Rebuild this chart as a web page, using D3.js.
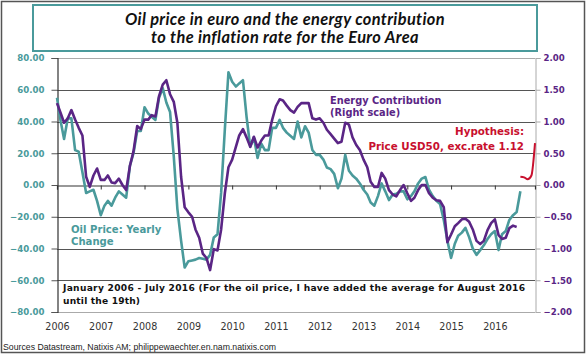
<!DOCTYPE html>
<html>
<head>
<meta charset="utf-8">
<script src="https://cdn.jsdelivr.net/npm/d3@7"></script>
<style>
  html, body { margin: 0; padding: 0; background: #fff; }
  svg { display: block; }
</style>
</head>
<body>
<div id="chart"></div>
<script>
// ---------- data ----------
const yearLabels = ["2006","2007","2008","2009","2010","2011","2012","2013","2014","2015","2016"];
const leftTicks = [80, 60, 40, 20, 0, -20, -40, -60, -80];
const rightTicks = [2, 1.5, 1, 0.5, 0, -0.5, -1, -1.5, -2];

// Oil price in euro, yearly change (%), monthly from Jan 2006 to Aug 2016 (left scale)
const oilChange = [
  55, 40, 29, 42, 42, 22, 21, 8, -5, -4, -3, -10,
  -19, -13, -10, -13, -8, -4, -6, -8, 12, 20, 34, 34,
  49, 45, 43, 41, 55, 61, 52, 46, 18, -15, -35, -52,
  -48, -47.5, -47, -46, -46.5, -47, -44, -33, -31, -5, 35, 71,
  65, 62, 64, 66, 43, 24, 30, 17, 26, 22, 22, 36,
  36, 41, 36, 33, 31, 29, 40, 30, 37, 33, 22, 19,
  19, 16, 11, 10, 7, -2, 4, 19, 9, 6, 4, 1,
  -3, -6, -11, -13, -7, 1, -4, -9.5, -6, -5.5, -4, -4,
  -9, -7, -4, 1, 4, 5, -3, -7, -10, -12, -22, -35,
  -46, -37, -32, -30, -27, -33, -40, -44, -41, -38, -34, -31,
  -29, -41, -31, -29, -22, -19, -17, -4
];

// Energy contribution to euro area inflation (pp), Jan 2006 to Jul 2016 (right scale)
const energyContribution = [
  1.29, 1.13, 0.98, 1.05, 1.18, 1.03, 0.90, 0.78, 0.13, -0.03, 0.15, 0.26,
  0.08, 0.08, 0.15, 0.04, 0.03, 0.10, 0.00, -0.08, 0.30, 0.53, 0.93, 0.88,
  1.03, 1.03, 1.10, 1.08, 1.40, 1.58, 1.65, 1.43, 1.31, 0.98, 0.13, -0.35,
  -0.43, -0.50, -0.70, -0.83, -1.08, -1.15, -1.34, -1.01, -1.03, -0.70, -0.13, 0.28,
  0.40, 0.60, 0.78, 0.88, 0.75, 0.60, 0.76, 0.59, 0.70, 0.78, 0.78, 1.03,
  1.24, 1.35, 1.33, 1.25, 1.18, 1.14, 1.23, 1.29, 1.29, 1.29, 1.05, 1.03,
  1.05, 0.98, 0.87, 0.80, 0.73, 0.66, 0.68, 0.98, 0.95, 0.75, 0.63, 0.55,
  0.40, 0.28, 0.05, -0.03, -0.03, 0.19, 0.10, -0.08, -0.15, -0.18, -0.08, 0.00,
  -0.13, -0.25, -0.20, -0.08, 0.00, 0.00, -0.13, -0.20, -0.24, -0.25, -0.35, -0.90,
  -0.78, -0.65, -0.60, -0.54, -0.53, -0.58, -0.70, -0.88, -0.93, -0.88, -0.71, -0.60,
  -0.54, -0.79, -0.85, -0.83, -0.68, -0.64, -0.66
];

// Hypothesis (Brent USD50, EUR/USD 1.12), Aug 2016 to Dec 2016 (right scale)
const hypothesis = [0.13, 0.12, 0.09, 0.15, 0.66];
const hypothesisStart = [2016, 7]; // year, month index (Aug)

// ---------- layout ----------
const W = 587, H = 355;
const plot = { left: 57, right: 535, top: 58, bottom: 312 };

const TEAL = "#4a9a9b";
const PURPLE = "#5a2585";
const RED = "#c8102e";

const svg = d3.select("#chart").append("svg")
  .attr("width", W).attr("height", H)
  .attr("viewBox", `0 0 ${W} ${H}`);

svg.append("rect").attr("x", 0).attr("y", 0).attr("width", W).attr("height", H).attr("fill", "#fff");

// outer frame
svg.append("rect")
  .attr("x", 1.5).attr("y", 1.5).attr("width", W - 4).attr("height", H - 4)
  .attr("fill", "none").attr("stroke", "#555").attr("stroke-width", 1.5);

// scales
const x = d3.scaleTime()
  .domain([new Date(2006, 0, 1), new Date(2016, 11, 1)])
  .range([plot.left, plot.right]);
const yL = d3.scaleLinear().domain([-80, 80]).range([plot.bottom, plot.top]);
const yR = d3.scaleLinear().domain([-2, 2]).range([plot.bottom, plot.top]);

const monthDate = i => new Date(2006, i, 1);

// plot border (top, bottom light gray)
const g = svg.append("g");
g.append("line").attr("x1", plot.left).attr("x2", plot.right).attr("y1", plot.top + 0.5).attr("y2", plot.top + 0.5)
  .attr("stroke", "#aaa").attr("stroke-width", 1);
g.append("line").attr("x1", plot.left).attr("x2", plot.right).attr("y1", plot.bottom + 0.5).attr("y2", plot.bottom + 0.5)
  .attr("stroke", "#aaa").attr("stroke-width", 1);

// gridlines
g.selectAll("line.grid").data(leftTicks.filter(d => d !== 80 && d !== -80 && d !== 0))
  .join("line").attr("class", "grid")
  .attr("x1", plot.left).attr("x2", plot.right)
  .attr("y1", d => Math.round(yL(d)) + 0.5).attr("y2", d => Math.round(yL(d)) + 0.5)
  .attr("stroke", "#555").attr("stroke-width", 1.1);

// left axis
const leftAxis = d3.axisLeft(yL).tickValues(leftTicks).tickSize(6).tickFormat(d3.format(".2f"));
const gl = svg.append("g").attr("transform", `translate(${plot.left + 0.5},0)`).call(leftAxis);
gl.select(".domain").attr("stroke", "#333").attr("stroke-width", 1.2);
gl.selectAll(".tick line").attr("stroke", "#555");
gl.selectAll(".tick text")
  .attr("x", -13)
  .attr("fill", TEAL)
  .style("font-family", "'DejaVu Sans', Verdana, sans-serif")
  .style("font-size", "8.6px").style("font-weight", "bold");

// right axis
const rightAxis = d3.axisRight(yR).tickValues(rightTicks).tickSize(5).tickFormat(d3.format(".2f"));
const gr = svg.append("g").attr("transform", `translate(${plot.right + 0.5},0)`).call(rightAxis);
gr.select(".domain").attr("stroke", "#aaa").attr("stroke-width", 1);
gr.selectAll(".tick line").attr("stroke", "#aaa");
gr.selectAll(".tick text")
  .attr("x", 8)
  .attr("fill", PURPLE)
  .style("font-family", "'DejaVu Sans', Verdana, sans-serif")
  .style("font-size", "8.6px").style("font-weight", "bold");

// zero axis with year ticks
const yearDates = yearLabels.map(y => new Date(+y, 0, 1));
const zeroAxis = d3.axisBottom(x).tickValues(yearDates).tickSize(4).tickFormat("");
const gz = svg.append("g").attr("transform", `translate(0,${Math.round(yL(0)) + 0.5})`).call(zeroAxis);
gz.select(".domain").attr("stroke", "#333").attr("stroke-width", 1.2);
gz.selectAll(".tick line").attr("stroke", "#333");

// bottom year labels
const bottomAxis = d3.axisBottom(x).tickValues(yearDates).tickSize(0).tickFormat((d, i) => yearLabels[i]);
const gb = svg.append("g").attr("transform", `translate(0,${plot.bottom + 8})`).call(bottomAxis);
gb.select(".domain").remove();
gb.selectAll(".tick text")
  .attr("fill", "#333")
  .style("font-family", "'DejaVu Sans', Verdana, sans-serif")
  .style("font-size", "9.6px");

// lines
const oilLine = d3.line().x((d, i) => x(monthDate(i))).y(d => yL(d));
const enLine = d3.line().x((d, i) => x(monthDate(i))).y(d => yR(d));
const hypLine = d3.line()
  .x((d, i) => x(new Date(hypothesisStart[0], hypothesisStart[1] + i, 1)))
  .y(d => yR(d))
  .curve(d3.curveMonotoneX);

svg.append("path").datum(oilChange).attr("d", oilLine)
  .attr("fill", "none").attr("stroke", TEAL).attr("stroke-width", 2.6).attr("stroke-linejoin", "round");
svg.append("path").datum(energyContribution).attr("d", enLine)
  .attr("fill", "none").attr("stroke", PURPLE).attr("stroke-width", 2.6).attr("stroke-linejoin", "round");
svg.append("path").datum(hypothesis).attr("d", hypLine)
  .attr("fill", "none").attr("stroke", RED).attr("stroke-width", 2).attr("stroke-linejoin", "round");

// title box
svg.append("rect").attr("x", 33).attr("y", 5).attr("width", 504).attr("height", 46)
  .attr("fill", "#fff").attr("stroke", "#4a9a9b").attr("stroke-width", 2);
const titleLines = ["Oil price in euro and the energy contribution", "to the inflation rate for the Euro Area"];
titleLines.forEach((s, i) => {
  svg.append("text").attr("text-anchor", "middle")
    .attr("x", 285).attr("y", 25 + i * 18)
    .style("font-family", "Lato, 'DejaVu Sans', sans-serif")
    .style("font-size", "16.4px").style("font-weight", "bold").style("font-style", "italic")
    .style("letter-spacing", "0.35px")
    .attr("fill", "#111")
    .text(s);
});

// annotations
function label(lines, xPos, yPos, color, size, anchor, lh) {
  const t = svg.append("text")
    .attr("text-anchor", anchor || "start")
    .attr("fill", color)
    .style("font-family", "'DejaVu Sans', Verdana, sans-serif")
    .style("font-size", size + "px").style("font-weight", "bold");
  lines.forEach((s, i) => t.append("tspan").attr("x", xPos).attr("y", yPos + i * lh).text(s));
  return t;
}
label(["Energy Contribution", "(Right scale)"], 330, 104, PURPLE, 9.8, "start", 12);
label(["Hypothesis:", "Price USD50, exc.rate 1.12"], 524, 135, RED, 10.3, "end", 14.5);
label(["Oil Price: Yearly", "Change"], 71, 233, TEAL, 10.1, "start", 12);

const note = svg.append("text")
  .attr("fill", "#111")
  .style("font-family", "'DejaVu Sans', Verdana, sans-serif")
  .style("font-size", "9.1px").style("font-weight", "bold");
note.append("tspan").attr("x", 63).attr("y", 291)
  .attr("textLength", 462).attr("lengthAdjust", "spacing")
  .text("January 2006 - July 2016 (For the oil price, I have added the average for August 2016");
note.append("tspan").attr("x", 63).attr("y", 303.5)
  .attr("textLength", 77).attr("lengthAdjust", "spacing")
  .text("until the 19th)");

// sources
svg.append("text").attr("x", 3).attr("y", 350)
  .attr("fill", "#222")
  .style("font-family", "'Liberation Sans', Arial, sans-serif")
  .style("font-size", "9.4px")
  .attr("textLength", 273).attr("lengthAdjust", "spacingAndGlyphs")
  .text("Sources Datastream, Natixis AM;  philippewaechter.en.nam.natixis.com");
</script>
</body>
</html>
